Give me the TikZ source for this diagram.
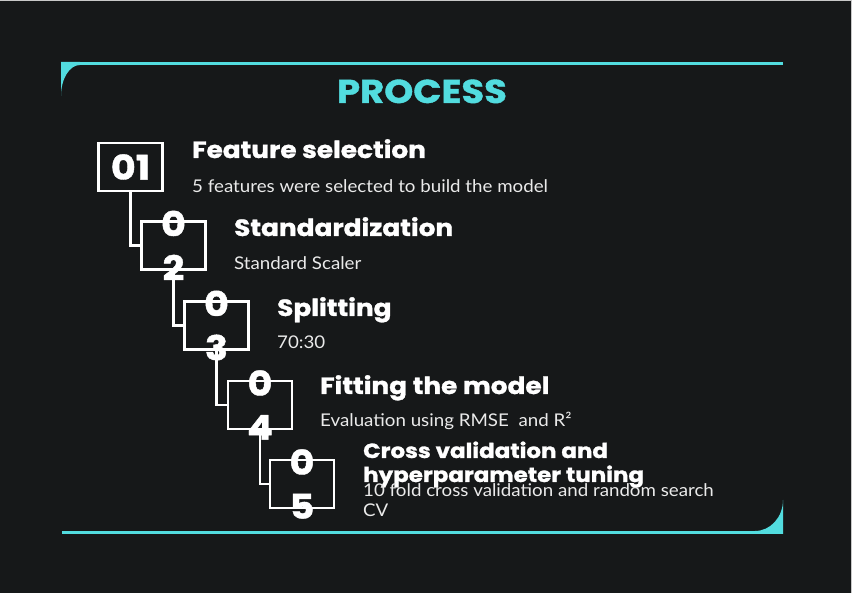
\documentclass[tikz,border=0pt]{standalone}
\usepackage{fontspec}
\setmainfont{Lato}[FakeStretch=1.07]
\newfontfamily\headfont{Poppins}[FakeStretch=1.12, FakeBold=1.2]
\definecolor{bg}{HTML}{161819}
\definecolor{accent}{HTML}{52DCDF}
\definecolor{subtext}{HTML}{EAEAEA}
\definecolor{edge}{HTML}{C8C8C8}
\begin{document}
\begin{tikzpicture}[x=1pt,y=-1pt,
  numbox/.style={draw=white, line width=2.5pt, minimum width=64pt, minimum height=48pt, inner sep=0pt},
  numtext/.style={text=white, align=center, inner sep=0pt, font=\headfont\bfseries\fontsize{34}{44}\selectfont},
  heading/.style={anchor=base west, inner sep=0pt, text=white, font=\headfont\bfseries\fontsize{23.5}{24}\selectfont},
  smallheading/.style={heading, font=\headfont\bfseries\fontsize{20.5}{24}\selectfont},
  subtitle/.style={anchor=base west, inner sep=0pt, text=subtext, font=\fontsize{17.5}{20}\selectfont},
  link/.style={draw=white, line width=2.5pt}
]
% page and background
\fill[bg] (0,0) rectangle (852,593);
\useasboundingbox (0,0) rectangle (852,593);
\draw[edge, line width=1pt] (0,0.5) -- (851.5,0.5) -- (851.5,593);

% cyan frame: top rule with rounded fill at the left corner
\fill[accent] (61,62) rectangle (783,65);
\fill[accent] (61,62) -- (61,96) .. controls (61,78.9) and (69.5,65) .. (80,65) -- (80,62) -- cycle;
% bottom rule with rounded fill at the right corner
\fill[accent] (62,531) rectangle (783,534);
\fill[accent] (783,534) -- (783,500) .. controls (783,517.1) and (770.5,531) .. (755,531) -- (755,534) -- cycle;

% title
\node[anchor=base, inner sep=0pt, text=accent, font=\headfont\bfseries\fontsize{33}{36}\selectfont] (title) at (422,103) {PROCESS};

% step boxes
\node[numbox] (b1) at (130.5,167) {};
\node[numbox] (b2) at (173.5,245.5) {};
\node[numbox] (b3) at (216.5,325.5) {};
\node[numbox] (b4) at (260,405) {};
\node[numbox] (b5) at (302,484) {};

\node[numtext] (n1) at (b1) {01};
\node[numtext] (n2) at (b2) {0\\2};
\node[numtext] (n3) at (b3) {0\\3};
\node[numtext] (n4) at (b4) {0\\4};
\node[numtext] (n5) at (b5) {0\\5};

% connectors
\draw[link] (b1.south) |- (b2.west);
\draw[link] (b2.south) |- (b3.west);
\draw[link] (b3.south) |- (b4.west);
\draw[link] (b4.south) |- (b5.west);

% step texts
\node[heading] (h1) at (192,158) {Feature selection};
\node[subtitle] (s1) at (192,193) {5 features were selected to build the model};
\node[heading] (h2) at (234,236) {Standardization};
\node[subtitle] (s2) at (234,270) {Standard Scaler};
\node[heading] (h3) at (277,316) {Splitting};
\node[subtitle] (s3) at (277,349) {70:30};
\node[heading] (h4) at (320,394) {Fitting the model};
\node[subtitle] (s4) at (320,427) {Evaluation using RMSE\ \ and R²};
\node[smallheading] (h5a) at (363,458) {Cross validation and};
\node[smallheading] (h5b) at (363,482) {hyperparameter tuning};
\node[subtitle] (s5a) at (363,497) {10 fold cross validation and random search};
\node[subtitle] (s5b) at (363,517) {CV};
\end{tikzpicture}
\end{document}
